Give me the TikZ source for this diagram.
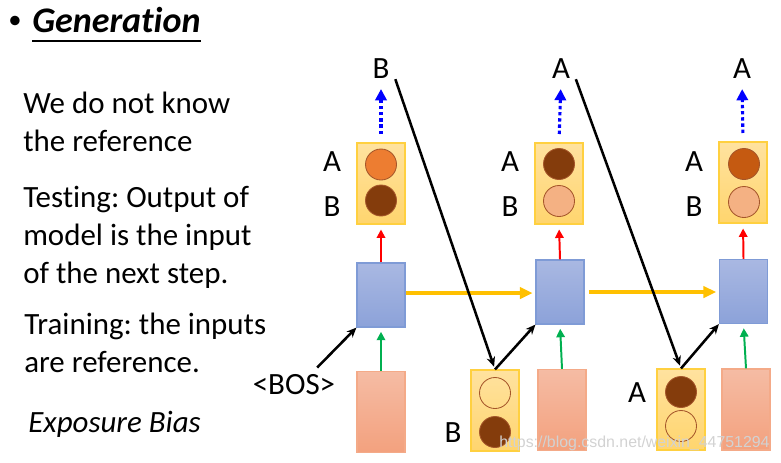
\documentclass[tikz,border=0pt]{standalone}
\usepackage{fontspec}
\setmainfont{Carlito}[Ligatures=NoCommon]
\newfontfamily\wmfont{Liberation Sans}
\usetikzlibrary{arrows.meta}
\frenchspacing
\definecolor{yeltop}{HTML}{FFE29F}
\definecolor{yelbot}{HTML}{FFD56E}
\definecolor{yelline}{HTML}{FFD040}
\definecolor{blutop}{HTML}{A9B8E2}
\definecolor{blubot}{HTML}{8CA2D9}
\definecolor{bluline}{HTML}{7F9BD6}
\definecolor{saltop}{HTML}{F5BCA4}
\definecolor{salbot}{HTML}{F3A17E}
\definecolor{salline}{HTML}{F4AA88}
\definecolor{ballline}{HTML}{A5562A}
\definecolor{orangeball}{HTML}{ED7D31}
\definecolor{darkball}{HTML}{843C0C}
\definecolor{midball}{HTML}{C55A11}
\definecolor{lightball}{HTML}{F4B183}
\definecolor{goldarrow}{HTML}{FFC000}
\definecolor{greenarrow}{HTML}{00B050}
\begin{document}
\begin{tikzpicture}[x=0.025cm,y=-0.025cm,
  every node/.style={font=\fontsize{22}{26}\selectfont, inner sep=0pt},
  outbox/.style={draw=yelline, line width=0.8pt, top color=yeltop, bottom color=yelbot, minimum width=1.2cm, minimum height=2.025cm},
  hidbox/.style={draw=bluline, line width=0.8pt, top color=blutop, bottom color=blubot, minimum width=1.2cm, minimum height=1.6cm},
  inbox/.style={draw=salline, line width=0.8pt, top color=saltop, bottom color=salbot, minimum width=1.2cm, minimum height=2.025cm},
  ball/.style={circle, draw=ballline, line width=0.6pt, minimum size=0.775cm},
  blk/.style={-{Stealth[length=7pt,width=6pt]}, line width=1.8pt, black},
  outarr/.style={-{Triangle[length=6pt,width=6pt]}, line width=1.4pt, red, shorten >=3.5pt},
  inarr/.style={-{Triangle[length=6pt,width=6pt]}, line width=1.4pt, greenarrow, shorten >=3pt},
  carry/.style={-{Triangle[length=9pt,width=8pt]}, line width=2.8pt, goldarrow},
  sample/.style={-{Triangle[length=8pt,width=8pt]}, line width=2.2pt, blue, dash pattern=on 2.4pt off 2pt, shorten <=6pt, shorten >=7pt}]
\useasboundingbox (0,0) rectangle (781,462);

% left text
\node[anchor=base west, font=\fontsize{19}{22}\selectfont] at (8,28) (dot) {\textbullet};
\node[anchor=base west, font=\fontsize{25.6}{30}\selectfont\bfseries\itshape] at (32,32) (gen) {Generation};
\draw[line width=1.4pt] ([yshift=-6.5pt]gen.base west) -- ([yshift=-6.5pt]gen.base east);
\node[anchor=base west] at (23,113) (t1) {We do not know};
\node[anchor=base west] at (23,151) (t2) {the reference};
\node[anchor=base west] at (23,207) (t3) {Testing: Output of};
\node[anchor=base west] at (23,245) (t4) {model is the input};
\node[anchor=base west] at (23,283) (t5) {of the next step.};
\node[anchor=base west] at (24,334) (t6) {Training: the inputs};
\node[anchor=base west] at (24,372) (t7) {are reference.};
\node[anchor=base west, font=\fontsize{22}{26}\selectfont\itshape] at (28,432) (t8) {Exposure Bias};

% boxes
\node[outbox] at (381,183.5) (out1) {}; \node[outbox] at (559,183.5) (out2) {}; \node[outbox] at (743,182.5) (out3) {};
\node[hidbox] at (381,295) (hid1) {}; \node[hidbox] at (560,292) (hid2) {}; \node[hidbox] at (743.5,291.5) (hid3) {};
\node[inbox] at (381,412) (in1) {}; \node[inbox] at (562,410) (in2) {}; \node[inbox] at (746,409.5) (in3) {};
\node[outbox] at (495,410.5) (fd2) {}; \node[outbox] at (681,409.5) (fd3) {};

% distributions
\node[ball, fill=orangeball] at (381,164.5) (a1) {}; \node[ball, fill=darkball] at (381,200.5) (b1) {};
\node[ball, fill=darkball] at (559,164) (a2) {}; \node[ball, fill=lightball] at (559,201) (b2) {};
\node[ball, fill=midball] at (744,164) (a3) {}; \node[ball, fill=lightball] at (744,202) (b3) {};
\node[ball] at (495,393) (fa2) {}; \node[ball, fill=darkball] at (495,432) (fb2) {};
\node[ball, fill=darkball] at (681,392) (fa3) {}; \node[ball] at (681,426) (fb3) {};

% labels
\node at (332,162) (la1) {A}; \node at (332,207) (lb1) {B};
\node at (510,162) (la2) {A}; \node at (510,207) (lb2) {B};
\node at (694,162) (la3) {A}; \node at (694,207) (lb3) {B};
\node at (381,69) (top1) {B}; \node at (561,69) (top2) {A}; \node at (742,69) (top3) {A};
\node at (453,433) (lfd2) {B}; \node at (637,393) (lfd3) {A};
\node at (294,385) (bos) {<BOS>};

% arrows
\draw[sample] (out1.north) -- (top1.south); \draw[sample] (out2.north) -- (top2.south); \draw[sample] (out3.north) -- (top3.south);
\draw[outarr] (hid1.north) -- (out1.south); \draw[outarr] (hid2.north) -- (out2.south); \draw[outarr] (hid3.north) -- (out3.south);
\draw[inarr] (in1.north) -- (hid1.south); \draw[inarr] (in2.north) -- (hid2.south); \draw[inarr] (in3.north) -- (hid3.south);
\draw[carry, shorten >=2pt] ([yshift=1.4pt]hid1.east) -- ([yshift=1.4pt]hid1.east -| hid2.west);
\draw[carry, shorten <=3pt, shorten >=2pt] (hid2.east) -- (hid2.east -| hid3.west);
\draw[blk] ([shift={(-13pt,5pt)}]bos.north east) -- (hid1.south west);
\draw[blk, shorten >=2pt] ([xshift=4pt]top1.south east) -- (fd2.north); \draw[blk] (fd2.north) -- (hid2.south west);
\draw[blk, shorten >=2pt] ([xshift=4pt]top2.south east) -- (fd3.north); \draw[blk] (fd3.north) -- (hid3.south west);

% watermark
\node[anchor=base west, font=\wmfont\fontsize{11.3}{13}\selectfont, text=gray!35] at (499,447) (wm) {https://blog.csdn.net/weixin\_44751294};
\end{tikzpicture}
\end{document}
